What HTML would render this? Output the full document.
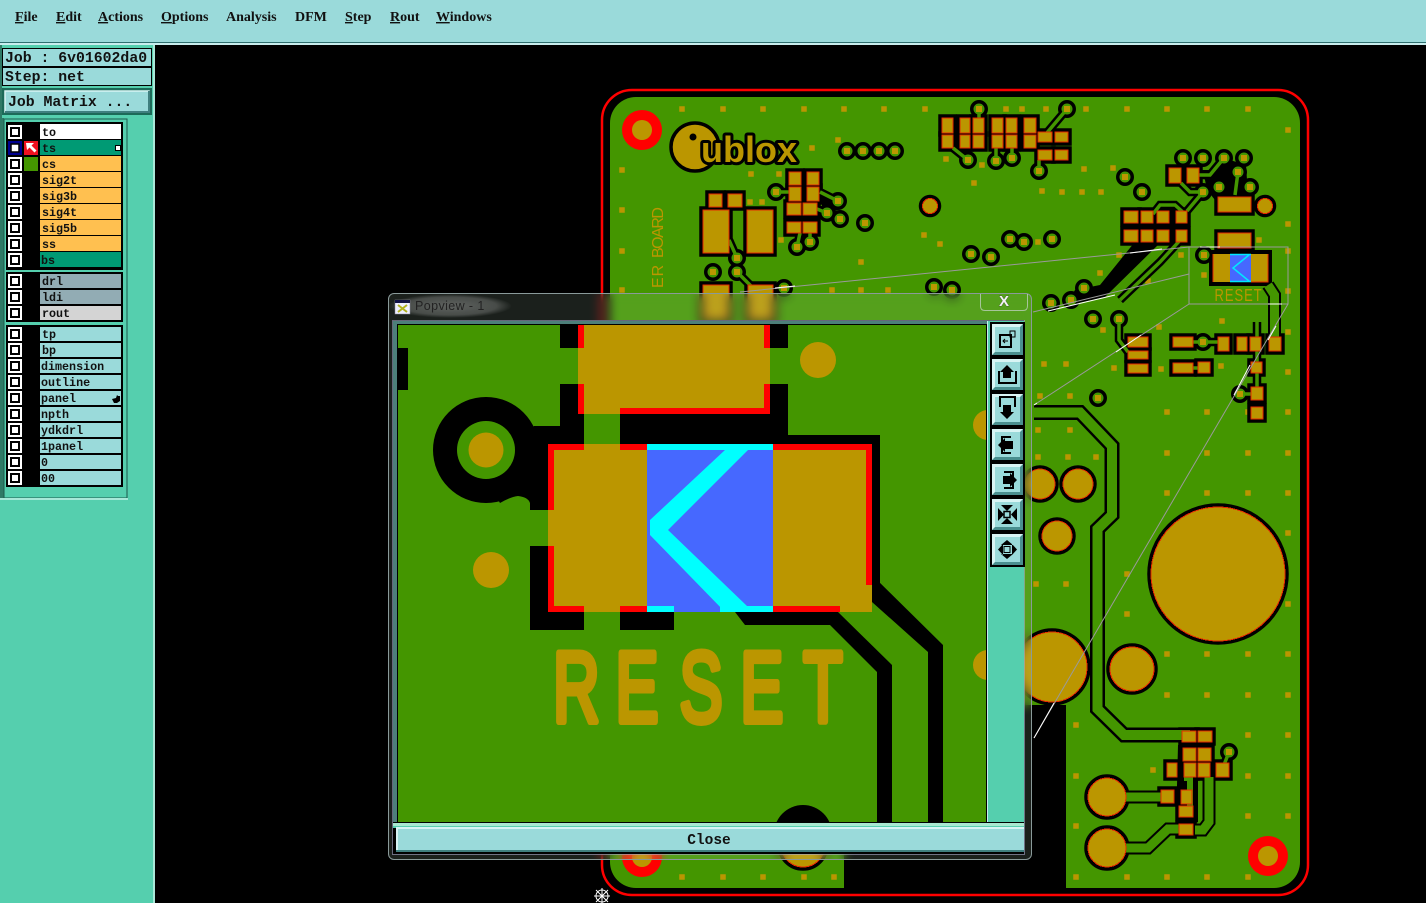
<!DOCTYPE html>
<html><head><meta charset="utf-8"><title>Popview</title>
<style>
html,body{margin:0;padding:0;background:#000;width:1426px;height:903px;overflow:hidden}
svg{position:absolute;left:0;top:0}
#glass{position:absolute;left:388px;top:293px;width:642px;height:565px;border:1px solid #8a9a9a;border-radius:6px;background:rgba(190,225,200,.14);-webkit-backdrop-filter:blur(5px);backdrop-filter:blur(5px)}
.m{font:bold 14px "Liberation Serif",serif;fill:#111}
.l{font:bold 11.7px "Liberation Mono",monospace;fill:#111}
.j{font:bold 14.8px "Liberation Mono",monospace;fill:#111}
</style></head><body>
<svg width="1426" height="903" viewBox="0 0 1426 903">
<defs>
<path id="vp" d="M847 151h0M863 151h0M879 151h0M895 151h0M776 192h0M838 201h0M827 213h0M840 219h0M865 223h0M797 247h0M810 242h0M737 258h0M713 272h0M737 272h0M784 288h0M979 109h0M1067 109h0M968 160h0M996 161h0M1012 158h0M1039 171h0M1183 158h0M1203 158h0M1224 158h0M1244 158h0M1238 172h0M1219 187h0M1250 187h0M1203 192h0M1125 177h0M1142 192h0M1010 239h0M1024 242h0M1052 239h0M971 254h0M991 257h0M1084 288h0M1051 303h0M1071 300h0M1204 255h0M1093 319h0M1119 319h0M1098 398h0M1203 342h0M1240 394h0M1229 752h0M934 287h0M952 290h0"/>
<path id="t1" fill="none" d="M1040 141L1067 109M953 148L968 160M996 148V161M1012 148V158M979 118V109M1039 160V171M776 192H790M820 192L838 201M817 209L827 213M800 233L797 247M810 233V242M729 240L737 258M737 272L755 290M1181 183L1190 192H1203M1199 175H1210L1224 158M1153 214L1160 205H1175L1185 214M1187 211L1203 192M1119 319V340L1128 352M1193 342H1218M1193 368H1198M1257 322V400M1240 394H1251M1222 770L1229 752M1238 172L1235 195M1184 236L1160 262L1120 300"/>
<path id="t2" fill="none" d="M1126 797H1165M1126 848H1148L1168 829H1185M1195 830H1203L1209 822V777M1268 285L1274.500 295V337"/>
<path id="t3" fill="none" d="M1034 412.500H1080L1112 446V515L1097.500 529V709L1124 735H1190"/>
<g id="pads">
<rect x="789" y="172" width="12" height="13"/><rect x="807" y="172" width="12" height="13"/><rect x="789" y="187" width="12" height="14"/><rect x="807" y="187" width="12" height="14"/><rect x="787" y="203" width="14" height="12"/><rect x="803" y="203" width="14" height="12"/><rect x="787" y="222" width="14" height="11"/><rect x="803" y="222" width="14" height="11"/>
<rect x="703" y="210" width="26" height="43"/><rect x="747" y="210" width="26" height="43"/><rect x="709" y="194" width="13" height="13"/><rect x="728" y="194" width="14" height="13"/><rect x="703" y="285" width="26" height="35"/><rect x="748" y="285" width="25" height="35"/>
<circle cx="930" cy="206" r="7.500"/><circle cx="1265" cy="206" r="7.500"/>
<rect x="942" y="118" width="11" height="15"/><rect x="942" y="135" width="11" height="13"/><rect x="960" y="118" width="10" height="15"/><rect x="960" y="135" width="10" height="13"/><rect x="973" y="118" width="11" height="15"/><rect x="973" y="135" width="11" height="13"/><rect x="992" y="118" width="11" height="15"/><rect x="992" y="135" width="11" height="13"/><rect x="1006" y="118" width="11" height="15"/><rect x="1006" y="135" width="11" height="13"/><rect x="1024" y="118" width="12" height="15"/><rect x="1024" y="135" width="12" height="13"/>
<rect x="1038" y="132" width="14" height="10"/><rect x="1055" y="132" width="13" height="10"/><rect x="1038" y="150" width="14" height="10"/><rect x="1055" y="150" width="13" height="10"/>
<rect x="1169" y="168" width="12" height="15"/><rect x="1187" y="168" width="12" height="15"/><rect x="1218" y="197" width="33" height="15"/>
<rect x="1124" y="211" width="14" height="12"/><rect x="1141" y="211" width="12" height="12"/><rect x="1157" y="211" width="12" height="12"/><rect x="1176" y="211" width="11" height="12"/><rect x="1124" y="230" width="14" height="12"/><rect x="1141" y="230" width="12" height="12"/><rect x="1157" y="230" width="12" height="12"/><rect x="1176" y="230" width="11" height="12"/>
<rect x="1218" y="233" width="33" height="15"/>
<rect x="1128" y="337" width="20" height="10"/><rect x="1128" y="351" width="20" height="8"/><rect x="1128" y="364" width="20" height="9"/>
<rect x="1173" y="337" width="20" height="10"/><rect x="1218" y="337" width="11" height="14"/><rect x="1237" y="337" width="10" height="14"/><rect x="1250" y="337" width="11" height="14"/><rect x="1269" y="337" width="12" height="14"/>
<rect x="1173" y="363" width="20" height="10"/><rect x="1198" y="362" width="12" height="11"/><rect x="1251" y="362" width="11" height="11"/><rect x="1251" y="387" width="12" height="13"/><rect x="1251" y="407" width="12" height="12"/>
<circle cx="1078" cy="484" r="15"/><circle cx="1040" cy="484" r="15"/><circle cx="1057" cy="536" r="15"/><circle cx="1218" cy="574" r="67"/><circle cx="1052" cy="667" r="35"/><circle cx="1132" cy="669" r="22"/><circle cx="1107" cy="797" r="19"/><circle cx="1107" cy="848" r="19"/><circle cx="803" cy="845" r="22"/>
<rect x="1182" y="731" width="14" height="11"/><rect x="1198" y="731" width="14" height="11"/><rect x="1183" y="748" width="13" height="13"/><rect x="1198" y="748" width="13" height="13"/><rect x="1184" y="763" width="12" height="14"/><rect x="1198" y="763" width="12" height="14"/><rect x="1167" y="763" width="10" height="14"/><rect x="1216" y="763" width="13" height="14"/><rect x="1161" y="790" width="13" height="13"/><rect x="1181" y="790" width="11" height="14"/><rect x="1179" y="806" width="14" height="11"/><rect x="1179" y="824" width="14" height="11"/>
</g>
<g id="cb"><rect x="8" width="14" height="14" fill="#fff"/><rect x="11" y="3" width="8" height="8" fill="#fff" stroke="#000" stroke-width="2"/></g>
<radialGradient id="gl"><stop offset="0" stop-color="#fff" stop-opacity=".32"/><stop offset=".7" stop-color="#fff" stop-opacity=".2"/><stop offset="1" stop-color="#fff" stop-opacity="0"/></radialGradient>
</defs>

<!-- menu bar -->
<rect width="1426" height="42" fill="#9adada"/>
<rect y="42" width="1426" height="1" fill="#2f6f6f"/><rect y="43" width="1426" height="2" fill="#c8eeee"/>
<text class="m" x="15" y="21"><tspan text-decoration="underline">F</tspan>ile</text>
<text class="m" x="56" y="21"><tspan text-decoration="underline">E</tspan>dit</text>
<text class="m" x="98" y="21"><tspan text-decoration="underline">A</tspan>ctions</text>
<text class="m" x="161" y="21"><tspan text-decoration="underline">O</tspan>ptions</text>
<text class="m" x="226" y="21">Analysis</text>
<text class="m" x="295" y="21">DFM</text>
<text class="m" x="345" y="21"><tspan text-decoration="underline">S</tspan>tep</text>
<text class="m" x="390" y="21"><tspan text-decoration="underline">R</tspan>out</text>
<text class="m" x="436" y="21"><tspan text-decoration="underline">W</tspan>indows</text>

<!-- left panel -->
<rect y="45" width="154" height="858" fill="#55cfae"/>
<rect x="153" y="45" width="2" height="858" fill="#a8e8d8"/>
<rect x="0" y="45" width="2" height="75" fill="#2f7a66"/>
<rect x="2" y="48" width="150" height="38" fill="#000"/>
<rect x="3" y="49" width="148" height="17" fill="#9adada"/><rect x="3" y="68" width="148" height="17" fill="#9adada"/>
<text class="j" x="5" y="62">Job : 6v01602da0</text>
<text class="j" x="5" y="81">Step: net</text>
<rect x="2" y="88" width="150" height="27" fill="#1c6a58"/>
<rect x="5" y="91" width="144" height="21" fill="#9adada" stroke="#d8f4f4" stroke-width="1.500"/>
<path d="M149 91V112H5" fill="none" stroke="#3f7f7f" stroke-width="2"/>
<text class="j" x="8" y="106">Job Matrix ...</text>
<rect x="0" y="118" width="4" height="381" fill="#2f7a66"/>
<rect x="4" y="119" width="123" height="379" fill="#55cfae" stroke="#1c5a4c"/>
<rect x="128" y="120" width="25" height="783" fill="#55cfae"/>
<rect x="0" y="498" width="128" height="2" fill="#a8e8d8"/>

<rect x="6" y="122" width="117" height="148" fill="#000"/>
<rect x="6" y="272" width="117" height="50" fill="#000"/>
<rect x="6" y="325" width="117" height="162" fill="#000"/>
<rect x="40" y="124" width="81" height="15" fill="#fff"/>
<rect x="40" y="140" width="81" height="15" fill="#009a74"/>
<rect x="40" y="156" width="81" height="15" fill="#ffc050"/><rect x="40" y="172" width="81" height="15" fill="#ffc050"/><rect x="40" y="188" width="81" height="15" fill="#ffc050"/><rect x="40" y="204" width="81" height="15" fill="#ffc050"/><rect x="40" y="220" width="81" height="15" fill="#ffc050"/><rect x="40" y="236" width="81" height="15" fill="#ffc050"/>
<rect x="40" y="252" width="81" height="15" fill="#009a74"/>
<rect x="40" y="274" width="81" height="14" fill="#92acb4"/><rect x="40" y="290" width="81" height="14" fill="#92acb4"/><rect x="40" y="306" width="81" height="14" fill="#d4d4d4"/>
<rect x="40" y="327" width="81" height="14" fill="#9adada"/><rect x="40" y="343" width="81" height="14" fill="#9adada"/><rect x="40" y="359" width="81" height="14" fill="#9adada"/><rect x="40" y="375" width="81" height="14" fill="#9adada"/><rect x="40" y="391" width="81" height="14" fill="#9adada"/><rect x="40" y="407" width="81" height="14" fill="#9adada"/><rect x="40" y="423" width="81" height="14" fill="#9adada"/><rect x="40" y="439" width="81" height="14" fill="#9adada"/><rect x="40" y="455" width="81" height="14" fill="#9adada"/><rect x="40" y="471" width="81" height="14" fill="#9adada"/>
<use href="#cb" y="125"/><use href="#cb" y="141"/><use href="#cb" y="157"/><use href="#cb" y="173"/><use href="#cb" y="189"/><use href="#cb" y="205"/><use href="#cb" y="221"/><use href="#cb" y="237"/><use href="#cb" y="253"/>
<use href="#cb" y="274"/><use href="#cb" y="290"/><use href="#cb" y="306"/>
<use href="#cb" y="327"/><use href="#cb" y="343"/><use href="#cb" y="359"/><use href="#cb" y="375"/><use href="#cb" y="391"/><use href="#cb" y="407"/><use href="#cb" y="423"/><use href="#cb" y="439"/><use href="#cb" y="455"/><use href="#cb" y="471"/>
<rect x="8" y="141" width="14" height="14" fill="#000090"/><rect x="11" y="144" width="8" height="8" fill="#fff" stroke="#000" stroke-width="1.500"/>
<rect x="24" y="141" width="14" height="14" fill="#f01020"/><path d="M26 143h8l-2.500 2.500 5 5-2 2-5-5L27 150z" fill="#fff"/>
<rect x="24" y="157" width="14" height="14" fill="#449600"/>
<rect x="115.500" y="145.500" width="5" height="5" fill="#fff" stroke="#000"/>
<path d="M112 399l4-1 1-3 1 1 2 0v5l-3 2h-3z" fill="#000"/>
<text class="l" x="42" y="136">to</text><text class="l" x="42" y="152">ts</text><text class="l" x="42" y="168">cs</text><text class="l" x="42" y="184">sig2t</text><text class="l" x="42" y="200">sig3b</text><text class="l" x="42" y="216">sig4t</text><text class="l" x="42" y="232">sig5b</text><text class="l" x="42" y="248">ss</text><text class="l" x="41" y="264">bs</text>
<text class="l" x="42" y="285">drl</text><text class="l" x="42" y="301">ldi</text><text class="l" x="42" y="317">rout</text>
<text class="l" x="42" y="338">tp</text><text class="l" x="42" y="354">bp</text><text class="l" x="41" y="370">dimension</text><text class="l" x="41" y="386">outline</text><text class="l" x="41" y="402">panel</text><text class="l" x="41" y="418">npth</text><text class="l" x="41" y="434">ydkdrl</text><text class="l" x="41" y="450">1panel</text><text class="l" x="41" y="466">0</text><text class="l" x="41" y="482">00</text>

<!-- PCB -->
<rect x="602" y="90" width="706" height="805" rx="30" fill="#000" stroke="#f00" stroke-width="2.500"/>
<rect x="610" y="97" width="690" height="791" rx="26" fill="#449600"/>
<rect x="844" y="705" width="222" height="184" fill="#000"/>
<path stroke="#bb9600" stroke-width="5.500" stroke-linecap="square" fill="none" d="M682 109h0M723 109h0M763 109h0M804 109h0M844 109h0M884 109h0M925 109h0M1006 109h0M1022 109h0M1046 109h0M1086 109h0M1127 109h0M1167 109h0M1207 109h0M1248 109h0M1288 130h0M838 140h0M812 148h0M622 170h0M751 174h0M779 174h0M622 210h0M750 202h0M762 202h0M781 240h0M622 251h0M924 235h0M940 244h0M861 262h0M946 159h0M982 165h0M974 183h0M1084 169h0M1113 168h0M1042 191h0M1062 192h0M1082 192h0M1101 192h0M1038 242h0M1288 224h0M1259 240h0M1288 251h0M1181 255h0M1119 255h0M1100 273h0M1148 281h0M1204 275h0M1288 291h0M1222 321h0M1159 327h0M1103 330h0M1288 332h0M1044 364h0M1066 364h0M1114 368h0M1161 369h0M1221 366h0M1288 372h0M1040 396h0M1070 396h0M1167 412h0M1207 412h0M1248 412h0M1288 412h0M1167 453h0M1207 453h0M1248 453h0M1288 453h0M1167 493h0M1207 493h0M1248 493h0M1288 493h0M1288 533h0M1127 574h0M1036 584h0M1066 584h0M1038 430h0M1070 430h0M1038 457h0M1068 457h0M1096 457h0M1288 604h0M1127 614h0M1167 654h0M1207 654h0M1248 654h0M1288 654h0M1167 695h0M1207 695h0M1248 695h0M1288 695h0M1076 725h0M1248 735h0M1288 735h0M1076 776h0M1153 770h0M1248 776h0M1288 776h0M1076 826h0M1248 816h0M1288 816h0M1076 877h0M1127 877h0M1167 877h0M1207 877h0M1248 877h0M682 877h0M723 877h0M763 877h0M804 877h0M834 877h0M622 290h0M720 290h0M832 290h0M861 290h0M888 290h0"/>

<!-- mounting holes -->
<circle cx="642" cy="130" r="20" fill="#f00"/><circle cx="642" cy="130" r="10" fill="#bb9600"/>
<circle cx="1268" cy="856" r="20" fill="#f00"/><circle cx="1268" cy="856" r="10" fill="#bb9600"/>
<circle cx="642" cy="857" r="20" fill="#f00"/><circle cx="642" cy="857" r="10" fill="#bb9600"/>

<!-- black copper clearance -->
<use href="#vp" stroke="#000" stroke-width="18" stroke-linecap="round"/>
<use href="#t1" stroke="#000" stroke-width="8.500"/>
<use href="#t2" stroke="#000" stroke-width="13"/>
<use href="#t3" stroke="#000" stroke-width="15"/>
<use href="#pads" fill="#000" stroke="#000" stroke-width="7.500"/>
<path fill="#000" d="M1134 243H1160L1105 297L1065 306L1075 290L1100 285ZM1200 170H1215L1230 160L1246 165L1248 195L1215 200L1207 190L1205 180ZM822 196L832 196L838 210L822 214ZM1178 745H1198V822L1190 826H1176ZM1209 250H1272V286H1209Z"/>
<use href="#t1" stroke="#449600" stroke-width="3.500"/>
<use href="#t2" stroke="#449600" stroke-width="9"/>
<use href="#t3" stroke="#449600" stroke-width="10"/>
<path d="M1184 778L1190 778V806" stroke="#449600" stroke-width="6" fill="none"/>
<use href="#vp" stroke="#449600" stroke-width="11" stroke-linecap="round"/>
<use href="#vp" stroke="#bb9600" stroke-width="6" stroke-linecap="square"/>
<use href="#pads" fill="#bb9600" stroke="#e62a00" stroke-width="1" shape-rendering="crispEdges"/>

<!-- logo -->
<circle cx="695" cy="147" r="24" fill="#bb9600" stroke="#000" stroke-width="3.500"/>
<circle cx="693" cy="137" r="3.500" fill="#000"/>
<text x="701" y="162" font-family="Liberation Sans,sans-serif" font-weight="bold" font-size="36" textLength="96" fill="#bb9600" stroke="#000" stroke-width="6" paint-order="stroke" stroke-linejoin="round">ublox</text>
<text transform="translate(663 288) rotate(-90)" font-family="Liberation Sans,sans-serif" font-size="16" fill="#bb9600" letter-spacing="1">ER</text>
<text transform="translate(663 258) rotate(-90)" font-family="Liberation Sans,sans-serif" font-size="16" textLength="51" fill="#bb9600">BOARD</text>

<!-- RESET part on board -->
<rect x="1213" y="254" width="17" height="28" fill="#bb9600"/>
<rect x="1230" y="254" width="21" height="28" fill="#4668ff"/>
<rect x="1251" y="254" width="17" height="28" fill="#bb9600"/>
<path d="M1268 254V282H1251M1213 254V282" fill="none" stroke="#e62a00"/>
<path d="M1230 254.500H1251M1249 255L1233 268L1249 281M1230 281.500H1251" fill="none" stroke="#00e8ff" stroke-width="1.500"/>
<text transform="translate(1214.500 301) scale(.72 1)" font-family="Liberation Sans,sans-serif" font-size="18" letter-spacing="1.400" fill="#bb9600">RESET</text>

<!-- view-zoom lines -->
<g stroke="#9a9a9a" stroke-width="1" fill="none">
<rect x="1189" y="247" width="99" height="57"/>
<path d="M1189 247L740 292M1189 274L1033 312M1189 304L1034 405M1288 304L1034 738"/>
</g>
<path stroke="#fff" stroke-width="1" fill="none" d="M1034 738L1054 703M1130 253L1162 249M1048 311L1115 295M1116 352L1141 335M1234 395L1250 365M1268 340L1276 326M1200 247L1220 247M1268 304L1282 304M1034 405L1037 403M775 288L795 286"/>

<!-- cursor -->
<g stroke="#fff" stroke-width="1" fill="none"><circle cx="602" cy="896" r="6"/><path d="M594 896H610M602 888V903M596 890L608 902M608 890L596 902"/></g>
</svg>

<div id="glass"></div>

<svg width="1426" height="903" viewBox="0 0 1426 903">
<defs><radialGradient id="gl2"><stop offset="0" stop-color="#fff" stop-opacity=".3"/><stop offset=".75" stop-color="#fff" stop-opacity=".2"/><stop offset="1" stop-color="#fff" stop-opacity="0"/></radialGradient></defs>
<!-- title bar -->
<ellipse cx="450" cy="306" rx="62" ry="12" fill="url(#gl2)"/>
<rect x="395" y="300" width="15" height="14" fill="#eef" stroke="#889" stroke-width=".500"/>
<rect x="395" y="300" width="15" height="3" fill="#114"/>
<path d="M398 305L407 312M407 305L398 312" stroke="#b0b020" stroke-width="2"/>
<text x="415" y="310" font-family="Liberation Sans,sans-serif" font-size="12.500" letter-spacing=".4" fill="#222">Popview - 1</text>
<path d="M980.500 294V306Q980.500 310.500 985 310.500H1023Q1027.500 310.500 1027.500 306V294" fill="none" stroke="#dde" stroke-opacity=".6"/>
<text x="1004" y="306" text-anchor="middle" font-family="Liberation Sans,sans-serif" font-weight="bold" font-size="15" fill="#f4f4f4" stroke="#333" stroke-width=".5" paint-order="stroke">X</text>

<!-- popview body -->
<rect x="392" y="320" width="632" height="534" fill="#000"/>
<rect x="392.500" y="320.500" width="632" height="534" fill="none" stroke="#aac" stroke-opacity=".6"/>
<rect x="393" y="321" width="631" height="3" fill="#4d7f7a"/>
<rect x="393" y="321" width="4" height="501" fill="#4d7f7a"/>
<rect x="398" y="325" width="588" height="497" fill="#449600"/>
<rect x="987" y="321" width="37" height="502" fill="#55cfae"/>
<rect x="987" y="321" width="1" height="502" fill="#c8eeee"/>

<svg x="398" y="325" width="588" height="497" viewBox="398 325 588 497">
<!-- black clearance shapes -->
<path fill="#000" d="M560 325H788V348H560ZM560 384H788V435H880V590H872V444H620V414H584V444H548V510H530V503Q528 497 518 496Q510 497 500 503L480 470L534 426H560ZM530 546H548V612H584V630H530ZM620 612H674V630H620Z"/>
<circle cx="486" cy="450" r="53" fill="#000"/>
<circle cx="486" cy="450" r="29" fill="#449600"/><circle cx="486" cy="450" r="17.500" fill="#bb9600"/>
<path fill="#000" d="M872 575L943 645V822H928V652L872 602ZM735 612H838L892 665V822H877V672L830 625H745ZM398 348H408V390H398Z"/>
<circle cx="803" cy="834" r="29" fill="#000"/>
<path fill="#449600" d="M579 348H770V384H579Z"/>
<!-- top pad -->
<rect x="578" y="325" width="192" height="89" fill="#bb9600"/>
<path fill="#f00" d="M578 325H584V348H578ZM764 325H770V348H764ZM578 384H584V414H578ZM620 408H764V384H770V414H620Z"/>
<!-- component -->
<rect x="548" y="444" width="99" height="168" fill="#bb9600"/>
<rect x="647" y="444" width="126" height="168" fill="#4668ff"/>
<rect x="773" y="444" width="99" height="168" fill="#bb9600"/>
<path fill="#f00" d="M548 444H584V450H554V510H548ZM620 444H647V450H620ZM548 546H554V606H584V612H548ZM620 606H647V612H620ZM773 444H872V585H866V450H773ZM773 606H840V612H773Z"/>
<path fill="#00ffff" d="M647 444H773V450H647ZM647 606H674V612H647ZM720 606H773V612H720ZM725 450H748L668 530L747 606V612H725L650 535V520Z"/>
<!-- circles -->
<circle cx="818" cy="360" r="18" fill="#bb9600"/>
<circle cx="491" cy="570" r="18" fill="#bb9600"/>
<circle cx="988" cy="425" r="15" fill="#bb9600"/>
<circle cx="988" cy="665" r="15" fill="#bb9600"/>
<text transform="translate(0 721.500) scale(.65 1)" x="851 947 1045.500 1139 1235.700" font-family="Liberation Sans,sans-serif" font-size="99" fill="#bb9600" stroke="#bb9600" stroke-width="7" stroke-linejoin="round">RESET</text>
</svg>

<!-- toolbar buttons -->
<rect x="990" y="322" width="35" height="245" fill="#000"/>
<rect x="992" y="324" width="31" height="31" fill="#4a8f8f"/><rect x="992" y="359" width="31" height="31" fill="#4a8f8f"/><rect x="992" y="394" width="31" height="31" fill="#4a8f8f"/><rect x="992" y="429" width="31" height="31" fill="#4a8f8f"/><rect x="992" y="464" width="31" height="31" fill="#4a8f8f"/><rect x="992" y="499" width="31" height="31" fill="#4a8f8f"/><rect x="992" y="534" width="31" height="31" fill="#4a8f8f"/>
<path fill="#d8f4f4" d="M992 324h31l-3 3h-25v25l-3 3zM992 359h31l-3 3h-25v25l-3 3zM992 394h31l-3 3h-25v25l-3 3zM992 429h31l-3 3h-25v25l-3 3zM992 464h31l-3 3h-25v25l-3 3zM992 499h31l-3 3h-25v25l-3 3zM992 534h31l-3 3h-25v25l-3 3z"/>
<g fill="#9adada"><rect x="995" y="327" width="25" height="25"/><rect x="995" y="362" width="25" height="25"/><rect x="995" y="397" width="25" height="25"/><rect x="995" y="432" width="25" height="25"/><rect x="995" y="467" width="25" height="25"/><rect x="995" y="502" width="25" height="25"/><rect x="995" y="537" width="25" height="25"/></g>
<g fill="none" stroke="#000" stroke-width="2">
<rect x="1000" y="335" width="11" height="12"/><rect x="1010" y="331" width="5" height="6" stroke-width="1"/>
<path d="M1000 372H999V383H1016V372H1015"/><path d="M1000 407V397H1015V407"/>
<path d="M1011 437H1002V453H1011"/><path d="M1004 472H1013V488H1004"/>
</g>
<g fill="#000">
<path d="M1007 365L1014 372H1011V378H1003V372H1000Z"/>
<path d="M1007 419L1014 412H1011V405H1003V412H1000Z"/>
<path d="M998 445L1005 438V441H1013V449H1005V452Z"/>
<path d="M1017 480L1010 473V476H1003V484H1010V487Z"/>
<path d="M1001 505H1013L1007 511ZM1001 524H1013L1007 518ZM998 508V521L1004 514.500ZM1017 508V521L1011 514.500Z"/>
<path d="M1007 540L1013 545H1001ZM1007 559L1013 554H1001ZM998 549.500L1003 544V555ZM1017 549.500L1012 544V555Z"/>
</g>
<rect x="1004" y="511.500" width="6" height="6" fill="none" stroke="#000" stroke-width="1.500"/>
<rect x="1004" y="546.500" width="6" height="6" fill="none" stroke="#000"/>
<path d="M1008 341H1003M1005 339L1003 341L1005 343" fill="none" stroke="#000"/>

<!-- close -->
<rect x="393" y="822" width="631" height="1" fill="#000"/>
<rect x="393" y="823" width="631" height="3" fill="#a8e8d0"/>
<rect x="393" y="826" width="631" height="2" fill="#55cfae"/>
<rect x="396" y="827" width="628" height="25" fill="#9adada"/>
<path d="M396 828H1024M397 828V851" stroke="#d8f4f4" stroke-width="2" fill="none"/>
<path d="M396 851H1024" stroke="#3f7f7f" stroke-width="2" fill="none"/>
<text x="709" y="844" text-anchor="middle" font-family="Liberation Mono,monospace" font-weight="bold" font-size="14.500" fill="#111">Close</text>
</svg>
</body></html>
